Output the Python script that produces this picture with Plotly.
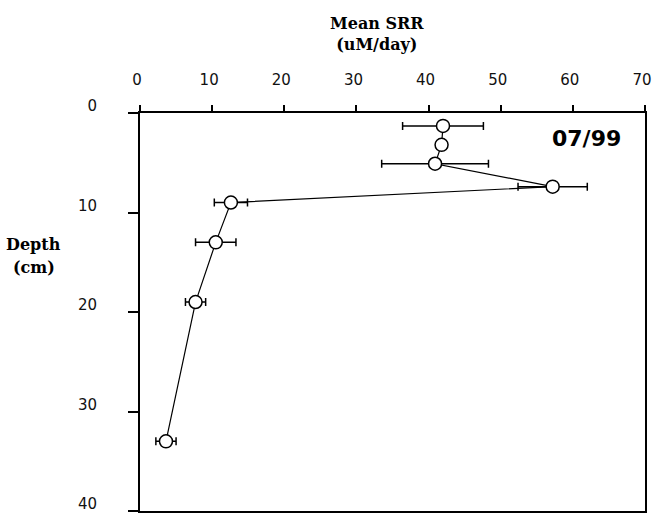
import plotly.graph_objects as go

# Sulfate reduction rate profile, July 1999
depth_cm = [1.3, 3.2, 5.1, 7.4, 9.0, 13.0, 19.0, 33.0]
mean_srr = [42.0, 41.8, 40.9, 57.2, 12.6, 10.5, 7.7, 3.6]
srr_err = [5.6, 0.0, 7.4, 4.8, 2.3, 2.8, 1.4, 1.4]

x_ticks = [0, 10, 20, 30, 40, 50, 60, 70]
y_ticks = [0, 10, 20, 30, 40]

fig = go.Figure()
fig.add_trace(go.Scatter(
    x=mean_srr,
    y=depth_cm,
    mode="lines+markers",
    line=dict(color="black", width=1.2),
    marker=dict(symbol="circle", size=13, color="white",
                line=dict(color="black", width=1.5)),
    error_x=dict(type="data", array=srr_err, visible=True,
                 color="black", thickness=1.5, width=4),
    showlegend=False,
))

tick_font = dict(family="DejaVu Sans", size=15, color="#111")
label_font = dict(family="DejaVu Serif", size=16, color="black")

fig.update_layout(
    width=657, height=518,
    margin=dict(l=140, r=7, t=113, b=5),
    paper_bgcolor="white",
    plot_bgcolor="white",
    xaxis=dict(
        side="top", range=[0, 70], tickvals=x_ticks,
        showline=True, linecolor="black", linewidth=1.8, mirror=True,
        ticks="outside", ticklen=6, tickcolor="black", tickwidth=1.5,
        showgrid=False, zeroline=False, tickfont=tick_font,
        ticklabelstandoff=14, ticklabelshift=-3, ticklabeloverflow="allow",
    ),
    yaxis=dict(
        range=[40, 0], tickvals=y_ticks,
        showline=True, linecolor="black", linewidth=1.8, mirror=True,
        ticks="outside", ticklen=10, tickcolor="black", tickwidth=1.5,
        showgrid=False, zeroline=False, tickfont=tick_font,
        ticklabelstandoff=28, ticklabelshift=7,
    ),
    annotations=[
        dict(text="<b>Mean SRR</b><br><b>(uM/day)</b>", xref="paper", yref="paper",
             x=0.47, y=1.0, yshift=101, xanchor="center", yanchor="top",
             showarrow=False, align="center", font=label_font),
        dict(text="<b>Depth</b>", xref="paper", yref="paper",
             x=-0.21, y=0.67, xanchor="center", yanchor="middle",
             showarrow=False, font=label_font),
        dict(text="<b>(cm)</b>", xref="paper", yref="paper",
             x=-0.21, y=0.6125, xanchor="center", yanchor="middle",
             showarrow=False, font=label_font),
        dict(text="<b>07/99</b>", xref="paper", yref="paper",
             x=0.885, y=0.935, xanchor="center", yanchor="middle",
             showarrow=False,
             font=dict(family="DejaVu Sans", size=22, color="black")),
    ],
)

fig.write_html("out.html")
